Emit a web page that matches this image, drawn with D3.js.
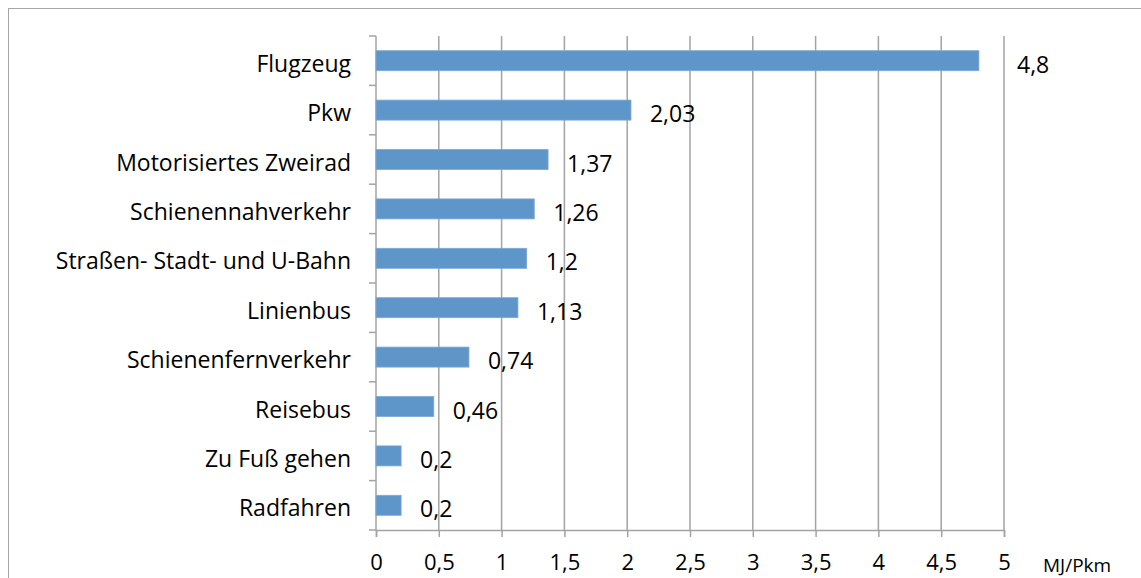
<!DOCTYPE html>
<html>
<head>
<meta charset="utf-8">
<script src="https://cdn.jsdelivr.net/npm/d3@7"></script>
<style>
  body { margin: 0; background: #fff; }
  svg { display: block; font-family: "Open Sans", sans-serif; }
</style>
</head>
<body>
<svg id="chart" width="1141" height="578"></svg>
<script>
// data
const categories = ["Flugzeug", "Pkw", "Motorisiertes Zweirad", "Schienennahverkehr",
  "Straßen- Stadt- und U-Bahn", "Linienbus", "Schienenfernverkehr", "Reisebus",
  "Zu Fuß gehen", "Radfahren"]
const values = [4.8, 2.03, 1.37, 1.26, 1.2, 1.13, 0.74, 0.46, 0.2, 0.2]
const xTicks = [0, 0.5, 1, 1.5, 2, 2.5, 3, 3.5, 4, 4.5, 5]
const unitLabel = "MJ/Pkm"

const margin = { top: 36, left: 376, right: 137, bottom: 48 }
const width = 1141 - margin.left - margin.right
const height = 578 - margin.top - margin.bottom
const grey = "#a3a3a3"
const fmt = v => String(v).replace(".", ",")

const svg = d3.select("#chart")

// outer frame (only top/left visible)
svg.append("rect")
  .attr("x", 8.5).attr("y", 8.5)
  .attr("width", 1141).attr("height", 600)
  .attr("fill", "none").attr("stroke", "#a6a6a6").attr("stroke-width", 1)

const g = svg.append("g").attr("transform", `translate(${margin.left},${margin.top})`)

const x = d3.scaleLinear().domain([0, 5]).range([0, width])
const y = d3.scaleBand().domain(categories).range([0, height]).paddingInner(0.595).paddingOuter(0.2975)

// gridlines
g.append("g").selectAll("line")
  .data(xTicks.slice(1))
  .join("line")
    .attr("x1", d => x(d)).attr("x2", d => x(d))
    .attr("y1", 0).attr("y2", height)
    .attr("stroke", grey).attr("stroke-width", 1.5)

// bottom axis
const xAxis = g.append("g")
  .attr("transform", `translate(0,${height})`)
  .call(d3.axisBottom(x).tickValues(xTicks).tickSize(7).tickPadding(17).tickFormat(fmt))
xAxis.select(".domain").attr("stroke", grey).attr("stroke-width", 1.5)
xAxis.selectAll(".tick line").attr("stroke", grey).attr("stroke-width", 1.5)
xAxis.selectAll("text").attr("font-size", 22).attr("fill", "#000")
  .attr("font-family", "'Open Sans', sans-serif")

// left axis: ticks between categories
const step = height / categories.length
const yTickPos = d3.range(categories.length + 1).map(i => i * step)
g.append("line")
  .attr("x1", 0).attr("x2", 0).attr("y1", 0).attr("y2", height)
  .attr("stroke", grey).attr("stroke-width", 1.5)
g.append("g").selectAll("line")
  .data(yTickPos)
  .join("line")
    .attr("x1", -7).attr("x2", 0)
    .attr("y1", d => d).attr("y2", d => d)
    .attr("stroke", grey).attr("stroke-width", 1.5)

// category labels
g.append("g").selectAll("text")
  .data(categories)
  .join("text")
    .attr("x", -25)
    .attr("y", d => y(d) + y.bandwidth() / 2 + 3)
    .attr("dy", "0.35em")
    .attr("text-anchor", "end")
    .attr("font-size", 23)
    .text(d => d)

// bars
g.append("g").selectAll("rect")
  .data(values)
  .join("rect")
    .attr("x", 0)
    .attr("y", (d, i) => y(categories[i]))
    .attr("width", d => x(d))
    .attr("height", y.bandwidth())
    .attr("fill", "#5f96c9")
    .attr("stroke", "#7aa8d4").attr("stroke-width", 0.8)

// value labels
g.append("g").selectAll("text")
  .data(values)
  .join("text")
    .attr("x", d => {
      const px = x(d) + 19
      return px + 30 > x(5) && x(d) < x(5) ? Math.max(px, x(5) + 13) : px
    })
    .attr("y", (d, i) => y(categories[i]) + y.bandwidth() / 2 + 4)
    .attr("dy", "0.35em")
    .attr("font-size", 23)
    .text(fmt)

// unit label
svg.append("text")
  .attr("x", 1043).attr("y", 565)
  .attr("dy", "0.35em")
  .attr("font-size", 19)
  .text(unitLabel)
</script>
</body>
</html>
